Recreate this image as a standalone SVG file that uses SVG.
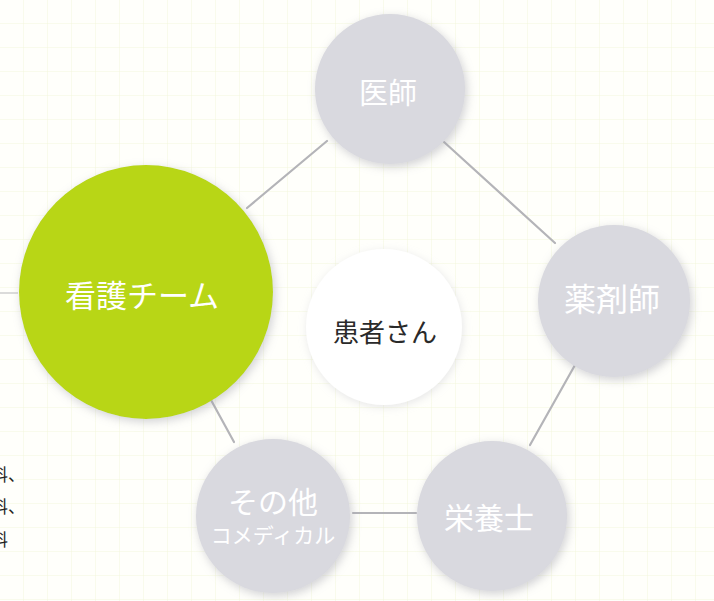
<svg xmlns="http://www.w3.org/2000/svg" width="714" height="601" viewBox="0 0 714 601">
  <defs>
    <pattern id="grid" width="24" height="24" patternUnits="userSpaceOnUse">
      <path d="M24 0 V24 M0 24 H24" fill="none" stroke="#f3f6dc" stroke-width="1"/>
    </pattern>
    <filter id="soft" x="-30%" y="-30%" width="160%" height="160%">
      <feGaussianBlur in="SourceAlpha" stdDeviation="5"/>
      <feOffset dx="2" dy="3" result="b"/>
      <feFlood flood-color="#9a9aa6" flood-opacity="0.45"/>
      <feComposite in2="b" operator="in"/>
      <feMerge><feMergeNode/><feMergeNode in="SourceGraphic"/></feMerge>
    </filter>
    <filter id="softw" x="-30%" y="-30%" width="160%" height="160%">
      <feGaussianBlur in="SourceAlpha" stdDeviation="4"/>
      <feOffset dx="1" dy="2" result="b"/>
      <feFlood flood-color="#b8b8c4" flood-opacity="0.35"/>
      <feComposite in2="b" operator="in"/>
      <feMerge><feMergeNode/><feMergeNode in="SourceGraphic"/></feMerge>
    </filter>
  </defs>
  <style>
    .jp { font-family: "Noto Sans CJK JP", "Noto Sans", sans-serif; }
    .gray { fill: #d9d9df; }
    .lbl { fill: #ffffff; text-anchor: middle; dominant-baseline: central; }
    .conn line { stroke: #b4b4b8; stroke-width: 2.2; stroke-linecap: round; }
    .side { font-size: 17px; fill: #222222; }
  </style>

  <rect x="0" y="0" width="714" height="601" fill="#fffffb"/>
  <rect x="0" y="0" width="714" height="601" fill="url(#grid)"/>

  <line x1="0" y1="293" x2="18" y2="293" stroke="#cfcfcf" stroke-width="1.5"/>

  <g id="side-text" class="jp side">
    <text x="-9" y="481">科、</text>
    <text x="-9" y="513">科、</text>
    <text x="-9" y="546">科</text>
  </g>

  <g id="connectors" class="conn">
    <line x1="247" y1="208" x2="327" y2="141"/>
    <line x1="444" y1="142" x2="555" y2="243"/>
    <line x1="575" y1="365" x2="530" y2="445"/>
    <line x1="353" y1="513" x2="416" y2="513"/>
    <line x1="211" y1="400" x2="234" y2="442"/>
  </g>

  <g id="node-kango">
    <circle cx="146" cy="292" r="127" fill="#b8d616" filter="url(#soft)"/>
    <text class="jp lbl" x="142" y="293" font-size="31">看護チーム</text>
  </g>

  <g id="node-ishi">
    <circle class="gray" cx="390" cy="89" r="75" filter="url(#soft)"/>
    <text class="jp lbl" x="388" y="91" font-size="29">医師</text>
  </g>

  <g id="node-yakuzaishi">
    <circle class="gray" cx="614" cy="301" r="76" filter="url(#soft)"/>
    <text class="jp lbl" x="612" y="297" font-size="32">薬剤師</text>
  </g>

  <g id="node-eiyoushi">
    <circle class="gray" cx="492" cy="516" r="75" filter="url(#soft)"/>
    <text class="jp lbl" x="489" y="516" font-size="30">栄養士</text>
  </g>

  <g id="node-sonota">
    <circle class="gray" cx="273" cy="516" r="77" filter="url(#soft)"/>
    <text class="jp lbl" x="273" y="500" font-size="30">その他</text>
    <text class="jp lbl" x="273" y="534" font-size="21">コメディカル</text>
  </g>

  <g id="node-kanja">
    <circle cx="384" cy="327" r="78" fill="#ffffff" filter="url(#softw)"/>
    <text class="jp" x="385" y="330" font-size="26" fill="#2a2a2a" text-anchor="middle" dominant-baseline="central">患者さん</text>
  </g>
</svg>
